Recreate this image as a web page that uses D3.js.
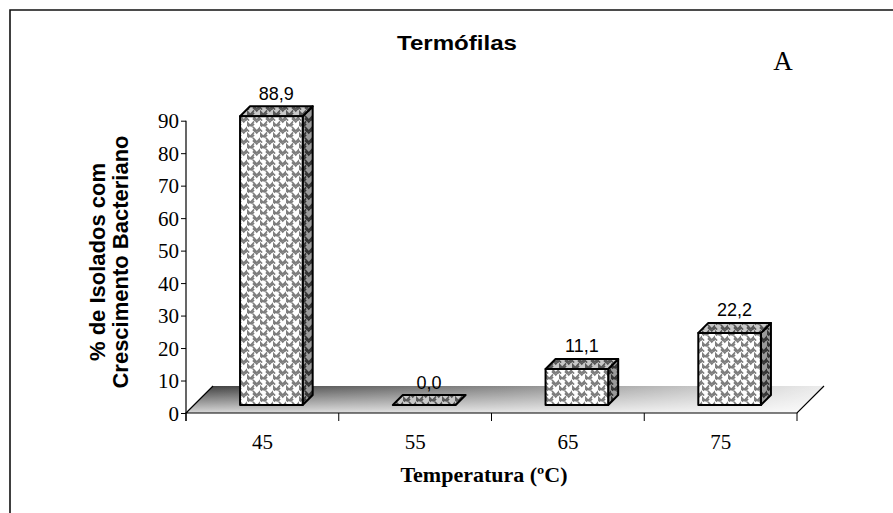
<!DOCTYPE html>
<html>
<head>
<meta charset="utf-8">
<script src="https://cdn.jsdelivr.net/npm/d3@7"></script>
<style>
  html, body { margin: 0; padding: 0; background: #fff; }
  svg { display: block; }
</style>
</head>
<body>
<svg id="chart" width="893" height="513"></svg>
<script>
// Data
const categories = ["45", "55", "65", "75"];
const values = [88.9, 0.0, 11.1, 22.2];
const valueLabels = ["88,9", "0,0", "11,1", "22,2"];
const yTickValues = [0, 10, 20, 30, 40, 50, 60, 70, 80, 90];
const titleText = "Termófilas";
const panelLetter = "A";
const yTitleLines = ["% de Isolados com", "Crescimento Bacteriano"];
const xTitleText = "Temperatura (ºC)";

(function draw() {
const W = 893, H = 513;
const svg = d3.select("#chart");
const serif = "'Liberation Serif', 'Times New Roman', serif";
const sans = "'Liberation Sans', Arial, sans-serif";

// Plot geometry
const plotLeft = 186, plotRight = 797, plotBase = 413, plotTop = 120.7;
const floorDepth = { dx: 27, dy: -27 };   // depth of the 3D floor
const barInset = { dx: 9, dy: -8 };       // bar front face offset from floor front edge
const barDepth = { dx: 10, dy: -10 };     // depth of each bar
const barFrac = 0.41;

const x = d3.scaleBand().domain(categories).range([plotLeft, plotRight]).padding(0);
const y = d3.scaleLinear().domain([0, 90]).range([plotBase, plotTop]);

// ---- defs: floor gradient and weave patterns
const defs = svg.append("defs");
const gH = defs.append("linearGradient").attr("id", "floorH")
  .attr("x1", 0).attr("y1", 0).attr("x2", 1).attr("y2", 0);
gH.append("stop").attr("offset", 0).attr("stop-color", "#3c3c3c");
gH.append("stop").attr("offset", 0.5).attr("stop-color", "#8a8a8a");
gH.append("stop").attr("offset", 1).attr("stop-color", "#ececec");
const gV = defs.append("linearGradient").attr("id", "floorV")
  .attr("x1", 0).attr("y1", 0).attr("x2", 0).attr("y2", 1);
gV.append("stop").attr("offset", 0).attr("stop-color", "#fff").attr("stop-opacity", 0);
gV.append("stop").attr("offset", 1).attr("stop-color", "#fff").attr("stop-opacity", 0.8);

// Brick-offset chevrons that read as a woven texture
function weave(id, bg, ink) {
  const w = 13, h = 11;
  const p = defs.append("pattern").attr("id", id)
    .attr("patternUnits", "userSpaceOnUse").attr("width", w).attr("height", h);
  p.append("rect").attr("width", w).attr("height", h).attr("fill", bg);
  p.append("path")
    .attr("d",
      "M0,1 L3.25,4.5 L6.5,1 " +
      "M0,3.5 L1.5,5 M5,5 L6.5,3.5 " +
      "M6.5,6.5 L9.75,10 L13,6.5 " +
      "M6.5,9 L8,10.5 M11.5,10.5 L13,9 " +
      "M-1,7.5 L1.5,10 " +
      "M8.5,-0.5 L9.75,1 L11,-0.5")
    .attr("stroke", ink).attr("stroke-width", 1.7).attr("fill", "none")
    .attr("stroke-linecap", "square");
  return `url(#${id})`;
}
const frontFill = weave("wFront", "#ffffff", "#7c7c7c");
const topFill = weave("wTop", "#c8c8c8", "#555");
const sideFill = weave("wSide", "#9a9a9a", "#333");

// ---- outer frame (top and left edges)
svg.append("path").attr("d", `M10,${H} L10,10 L${W},10`)
  .attr("fill", "none").attr("stroke", "#111").attr("stroke-width", 1.6);

// ---- floor
const floorPts = [
  [plotLeft, plotBase], [plotRight, plotBase],
  [plotRight + floorDepth.dx, plotBase + floorDepth.dy],
  [plotLeft + floorDepth.dx, plotBase + floorDepth.dy]
];
const floorPath = "M" + floorPts.map(p => p.join(",")).join("L") + "Z";
svg.append("path").attr("d", floorPath).attr("fill", "url(#floorH)");
svg.append("path").attr("d", floorPath).attr("fill", "url(#floorV)");
svg.append("path")
  .attr("d", `M${floorPts[3]}L${floorPts[0]}L${floorPts[1]}L${floorPts[2]}`)
  .attr("fill", "none").attr("stroke", "#000").attr("stroke-width", 1.2);

// ---- x axis ticks at category boundaries
const boundaries = categories.map(c => x(c)).concat([plotRight]);
svg.append("g").selectAll("line").data(boundaries).join("line")
  .attr("x1", d => d).attr("x2", d => d)
  .attr("y1", plotBase).attr("y2", plotBase + 8)
  .attr("stroke", "#000").attr("stroke-width", 1);

svg.append("g").selectAll("text").data(categories).join("text")
  .attr("x", d => x(d) + x.bandwidth() / 2)
  .attr("y", plotBase + 36)
  .attr("text-anchor", "middle")
  .attr("font-family", serif)
  .attr("font-size", 21)
  .text(d => d);

// ---- y axis
const yAxis = d3.axisLeft(y).tickValues(yTickValues).tickSize(5).tickSizeOuter(0)
  .tickFormat(d3.format("d"));
const gy = svg.append("g").attr("transform", `translate(${plotLeft},0)`).call(yAxis);
gy.select(".domain").attr("stroke", "#000").attr("stroke-width", 1.2)
  .attr("d", `M0,${plotBase + 8}V${plotTop}`);
gy.selectAll(".tick line").attr("stroke", "#000");
gy.selectAll(".tick text")
  .attr("font-family", serif)
  .attr("font-size", 21).attr("fill", "#000").attr("x", -7).attr("dy", "0.34em");

// ---- bars (3D columns)
const bars = svg.append("g");
categories.forEach((c, i) => {
  const bw = x.bandwidth() * barFrac;
  const x0 = x(c) + x.bandwidth() / 2 + barInset.dx - bw / 2;
  const x1 = x0 + bw;
  const yb = y(0) + barInset.dy;
  const yt = yb - (y(0) - y(values[i]));
  const dx = barDepth.dx, dy = barDepth.dy;
  const g = bars.append("g").attr("stroke", "#000").attr("stroke-width", 2)
    .attr("stroke-linejoin", "round");
  // side face
  g.append("path").attr("d", `M${x1},${yb}L${x1 + dx},${yb + dy}L${x1 + dx},${yt + dy}L${x1},${yt}Z`)
    .attr("fill", sideFill);
  // top face
  g.append("path").attr("d", `M${x0},${yt}L${x1},${yt}L${x1 + dx},${yt + dy}L${x0 + dx},${yt + dy}Z`)
    .attr("fill", topFill);
  // front face
  if (yb - yt > 0.5) {
    g.append("rect").attr("x", x0).attr("y", yt).attr("width", bw).attr("height", yb - yt)
      .attr("fill", frontFill);
  }
  // value label
  svg.append("text")
    .attr("x", (x0 + x1) / 2 + dx / 2)
    .attr("y", yt + dy - 6.5)
    .attr("text-anchor", "middle")
    .attr("font-family", sans)
    .attr("font-size", 18)
    .text(valueLabels[i]);
});

// ---- titles
svg.append("text").attr("x", 457).attr("y", 50)
  .attr("text-anchor", "middle")
  .attr("font-family", sans)
  .attr("font-weight", "bold").attr("font-size", 20)
  .attr("textLength", 120).attr("lengthAdjust", "spacingAndGlyphs")
  .text(titleText);

svg.append("text").attr("x", 783).attr("y", 70)
  .attr("text-anchor", "middle")
  .attr("font-family", serif)
  .attr("font-size", 27)
  .text(panelLetter);

const yTitle = svg.append("text")
  .attr("transform", `translate(105,262) rotate(-90)`)
  .attr("text-anchor", "middle")
  .attr("font-family", sans)
  .attr("font-weight", "bold").attr("font-size", 22);
yTitle.selectAll("tspan").data(yTitleLines).join("tspan")
  .attr("x", 0).attr("dy", (d, i) => i === 0 ? 0 : 23)
  .text(d => d);

svg.append("text").attr("x", 484).attr("y", 482)
  .attr("text-anchor", "middle")
  .attr("font-family", serif)
  .attr("font-weight", "bold").attr("font-size", 22)
  .text(xTitleText);
})();
</script>
</body>
</html>
